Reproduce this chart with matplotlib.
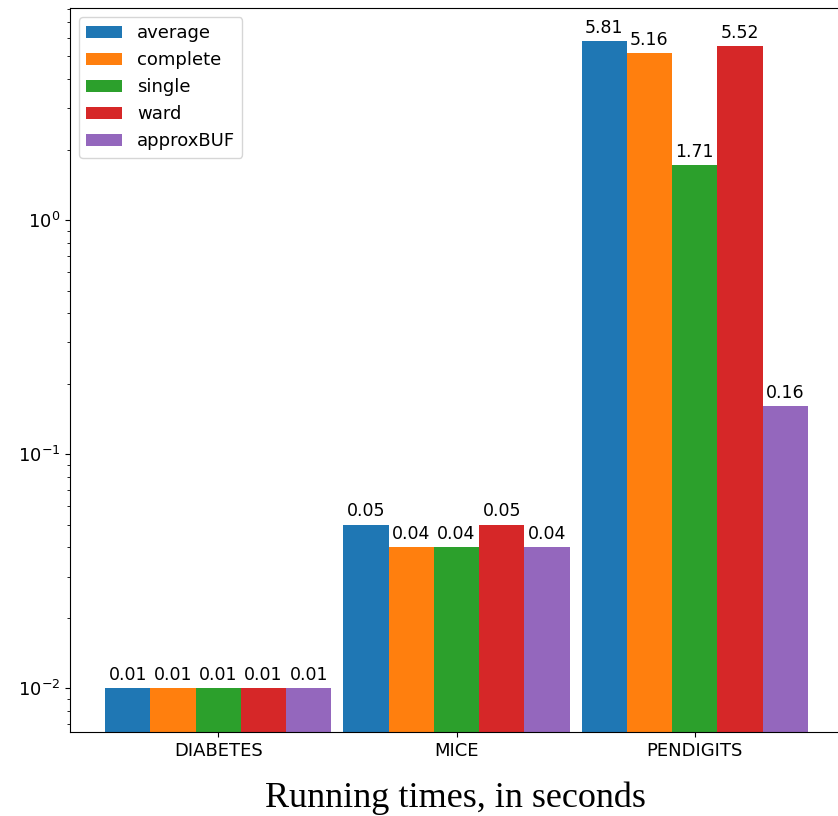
import matplotlib.pyplot as plt
import numpy as np

datasets = ["DIABETES", "MICE", "PENDIGITS"]
methods = ["average", "complete", "single", "ward", "approxBUF"]
average = [0.01, 0.05, 5.81]
complete = [0.01, 0.04, 5.16]
single = [0.01, 0.04, 1.71]
ward = [0.01, 0.05, 5.52]
approxBUF = [0.01, 0.04, 0.16]
times = [average, complete, single, ward, approxBUF]

plt.rcParams['font.family'] = ['DejaVu Sans']
fig = plt.figure(figsize=(8.38, 8.16), dpi=100)
ax = fig.add_axes([70 / 838, 84 / 816, 773 / 838, 724 / 816])

x = np.arange(len(datasets))
width = 0.19
for i, (name, vals) in enumerate(zip(methods, times)):
    pos = x + (i - 2) * width
    bars = ax.bar(pos, vals, width, label=name, log=True)
    ax.bar_label(bars, labels=["%.2f" % v for v in vals], padding=3, fontsize=12.5)

ax.set_yscale("log")
ax.set_ylim(0.0065, 8.05)
ax.set_xlim(-0.6225, 2.6225)
ax.set_xticks(x)
ax.set_xticklabels(datasets, fontsize=13)
ax.tick_params(axis="y", labelsize=13)
ax.spines["right"].set_visible(False)
ax.legend(loc="upper left", fontsize=13)

# caption under the chart
fig.text(0.543, 0.022, "Running times, in seconds", ha="center", va="center",
         fontsize=26, family="Liberation Serif")

plt.savefig("out.png")
